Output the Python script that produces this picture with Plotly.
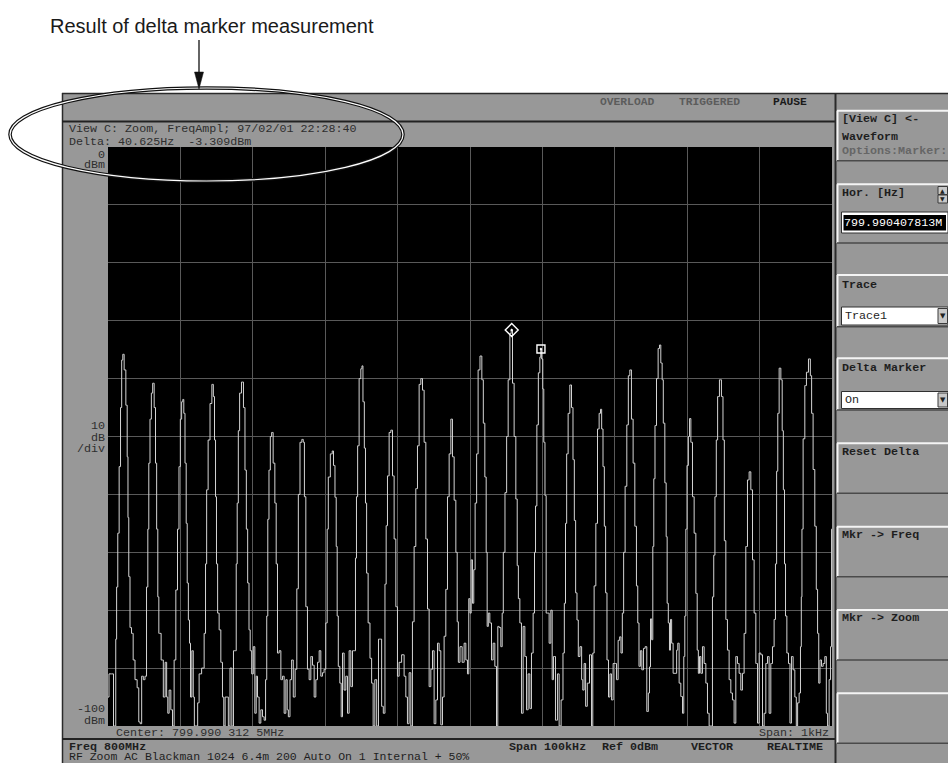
import plotly.graph_objects as go

W, H = 948, 763

# ---------------- data (Hz offset from centre, dBm) ----------------
center_label = "Center: 799.990 312 5MHz"
span_label = "Span: 1kHz"
x_range_hz = [-500, 500]
y_range_dbm = [-100, 0]
hz_per_div = 100
db_per_div = 10

trace_freq_hz = [
    -500, -497.2, -493.1, -491.7, -489.6, -489, -487.2, -485.8, -483.4, -482, -480.2, -478.9, -476.5, -474.2, -472.8, -472, -470.6, -468.6,
    -466.4, -464.1, -461.3, -458.2, -456.8, -454.4, -452.6, -449.9, -447.9,
    -445.7, -444.3, -443, -441, -439.2, -437.4, -435.1, -433.7, -431.9, -430.5, -429.1,
    -428.2, -425, -422.2, -419.9, -418.1, -416.7, -414.4, -412, -409.8, -407.5,
    -405.1, -402.9, -401, -399.2, -397.4, -396, -394.6, -392.7, -391.3, -389.9, -388.1,
    -386.7, -385.4, -383, -381.5, -379.9, -377, -375.3, -373, -368.4, -366,
    -364.6, -362.9, -360.5, -357.7, -355.4, -353.6, -352.2, -350.8, -349.5, -347.7, -345.3,
    -343, -340.8, -339.4, -337, -334.7, -332.9, -330.1, -327.8, -325.6, -323.6,
    -322.2, -320.9, -319.1, -317.3, -314, -311.8, -309.8, -308, -306.2, -304.3,
    -302.9, -300.2, -298.4, -296, -294.6, -292.4, -290.1, -287.7, -285.5, -283.2, -281.5,
    -280, -278.6, -276.7, -274.9, -273.1, -270.7, -268.4, -267, -264.8,
    -262.4, -260.1, -257.9, -255.5, -253.2, -251.8, -250, -247.3, -245.5, -242.7, -240.4,
    -238, -236.2, -233.4, -231.1, -229.5, -227.9, -225.6, -223.4,
    -221, -218.7, -216.4, -214.1, -211.8, -209.5, -207.2, -204.9, -202.7, -200.4, -198,
    -196.6, -194.8, -191, -189.6, -187.5, -185.5, -184.1, -182.8, -181,
    -178.6, -177.2, -175, -172.7, -170.3, -168.1, -165.8, -163.4, -161.2, -158.9,
    -157.5, -156.1, -154.3, -152, -149.6, -148.8, -146.9, -145, -143.7, -141.9, -139.5,
    -136.8, -135, -132.6, -130.3, -127.5, -125.3, -123, -121.1, -118.4, -116.5,
    -115.1, -112.9, -110.5, -108.1, -106, -103.6, -101.3, -99.1,
    -96.7, -92.2, -89.8, -87.5, -85.3, -82.9, -80.6, -78.4,
    -76, -73.7, -71.4, -69.1, -66.7, -64.5, -62.2, -59.8, -57.6, -55.3,
    -52.9, -50.7, -48.4, -46, -43.8, -41.5, -39.1, -36.9, -34.6, -32.2,
    -30, -27.6, -25.3, -23.1, -20.7, -18.4, -17, -15.2,
    -12.4, -9.3, -6.9, -4.6, -2.4, -1, 0.9, 2.3, 4.5, 5.9,
    8.3, 10, 12.4, 15.2, 17.5, 19.3, 21.7, 23, 24.4,
    26.2, 28.6, 30.8, 33.1, 35.5, 37.7, 39.1, 41.4, 43.8, 45.1, 46.9,
    49.7, 51.5, 53.9, 56.2, 57.6, 59.8, 62.1, 64.5, 65.9, 67.7, 70,
    72.2, 74.6, 76.9, 79.1, 81.5, 83.8, 86, 88.4,
    89.8, 91.2, 93.5, 95.3, 97.6, 98, 99.8, 101.2, 102.6, 104.5, 105.9,
    108.1, 110.5, 112.8, 114.2, 116.4, 119.7, 121.9, 124.3, 127.4, 129.4, 131.2,
    132.6, 134.4, 136.7, 139.1, 141.3, 143.2, 145, 146.8, 148.7,
    150.5, 153.3, 155.1, 156.5, 158.8, 160.6, 163.4, 166.7, 168.9, 170.3, 172.6,
    175, 177.2, 179.5, 181, 182.7, 184.7, 186.4, 188.2, 190.2,
    192.4, 194.3, 196.5, 198.9, 201.2, 203.4, 205.8, 207.6, 209.5, 211.3,
    213.1, 215.4, 217.8, 219.6, 221.9, 224.1, 226.5, 228.8, 231, 232.4,
    234.4, 236.2, 238.5, 240.7, 243, 245.4, 247.2, 248.6, 250, 251.8,
    253.2, 254.5, 256.5, 258.7, 261, 262.4, 264.7, 266.1, 267.9, 270.3, 271.6, 273,
    274.8, 276.2, 277.6, 279.4, 281.7, 284.5, 286.3, 287.7, 290, 292.4, 294.6, 296, 297.4,
    298.8, 300.7, 302.5, 303.9, 306.2, 308.4, 310.8, 313.1, 314.5,
    316.3, 317.7, 320, 322.2, 324.6, 326.9, 329.1, 331.5, 333.8, 336,
    337.3, 339.3, 341.1, 342.9, 346.2, 348.4, 350.4, 352.2, 354.5,
    356.7, 359.1, 361.4, 363.6, 366, 368.3, 370.5, 372.9, 375.2, 377.4, 379.8,
    382.1, 384.4, 386.7, 389.1, 391.3, 393.6, 396,
    398.2, 400.5, 402.9, 405.1, 407.4, 409.8, 412, 414.3, 416.7, 418.9, 421.2,
    422.6, 424.4, 425.8, 428.2, 430.5, 431.9, 433.7, 435.1, 436.5,
    438.8, 441, 442.9, 445.1, 447.5, 449.8, 451.6, 453.4, 455.8, 457.1,
    458.1, 458.9, 461.3, 463.6, 465.8, 469.2, 471, 472.7, 475.1, 477.4, 479.2, 481,
    482.4, 484.4, 486.6, 488.9, 491.3, 493, 494.8, 497.2, 498.8, 500,
]

trace_level_dbm = [
    -95, -91, -91, -100, -100, -85, -76, -66.7, -55.2, -45, -36.8, -35.8, -38.5, -44.6, -53.5, -64, -74.2, -83,
    -84, -88.6, -92, -93.4, -99.3, -99.6, -91.4, -92, -91.4,
    -76, -66, -54.6, -47, -42.5, -40.8, -45, -54.6, -66, -77.7, -84,
    -84, -88.6, -95, -89, -95, -97.8, -93.8, -97.2, -100, -88.6,
    -76.5, -66, -55.2, -47, -44, -43.6, -46, -54.6, -65, -75.3, -81.7,
    -85.7, -95, -87, -95, -100, -100, -96, -91, -90, -84,
    -72, -59.2, -50.6, -44.3, -41, -43.1, -50.6, -60.4, -72, -80.5, -83.4,
    -89, -95, -100, -95, -95, -100, -90, -100, -87, -87,
    -72, -61.5, -49, -42.5, -40.6, -45, -55.8, -66, -75.3, -83.4,
    -87, -91, -86.3, -97.8, -91.4, -95, -99.5, -97.2, -98.4, -99, -92,
    -81, -64.3, -55.8, -50, -49.3, -54.6, -61.5, -72, -87.4,
    -87, -92, -91.4, -97.8, -92, -97.2, -98.4, -92, -88.6, -95, -90.2,
    -76.3, -60, -51, -50.5, -51, -60.4, -79.4, -90.2,
    -92, -88, -89.5, -95, -92, -89, -87, -91.4, -90.8, -90.2, -82.2,
    -66, -57, -53, -52.5, -55, -60.5, -69, -81, -89.7,
    -92.6, -98.4, -87.4, -93.8, -91.4, -97.8, -87, -93.2, -87, -87,
    -71, -60.4, -51.6, -40, -38.3, -37.8, -44, -52, -61.5, -73.6, -82.2,
    -88.3, -92.6, -100, -92, -100, -85, -85, -96.6, -97.8, -75.5,
    -65.4, -56.8, -49.3, -48.9, -56.8, -67.7, -79.4, -91.4,
    -89, -87.7, -91.4, -95, -99.6, -90.8, -100, -82,
    -69, -59, -51.6, -41, -40, -42, -51, -67.7, -79.8, -93.2,
    -90.2, -87, -99.6, -95.5, -85.7, -87, -99.8, -95, -84.5, -76.4,
    -60.4, -53, -47, -53.5, -61, -70, -82, -89,
    -86.3, -89, -85.7, -88.6, -91, -78, -80.5, -71.3, -78.8, -73,
    -61.5, -53, -38.5, -36.1, -40.2, -47.7, -57, -70, -82.8,
    -80.5, -82.2, -88.6, -85.7, -89.7, -100, -82.8, -83, -86.3, -80.5, -70,
    -59.7, -50, -40.2, -32.2, -31.6, -40.8, -50, -60.8, -72.3, -78, -82.2,
    -97.8, -82.8, -88, -97.2, -91, -97, -87.4, -80.5,
    -70, -62, -48, -39, -36.3, -34.9, -36.6, -41.8, -51, -60.2, -80.5,
    -80.5, -85.7, -80, -92, -88, -99, -91, -100, -95.5, -87.4, -78.8,
    -65, -53, -46, -41.1, -45, -54, -64.5, -77, -81.7,
    -88, -86.3, -92, -93.8, -89.2, -96.6, -92.6, -87.7, -100, -87.4, -75.8,
    -65, -48.7, -46, -45.3, -48.7, -55.2, -65.5, -77, -88.6,
    -95, -91, -95.5, -89.2, -89.2, -92, -85.2, -84.6, -87.4, -80.5,
    -70, -58.6, -48, -39.5, -38.5, -47, -54.6, -65.5, -75.8, -82.2,
    -89.7, -87, -90.3, -86.6, -86.3, -97.5, -94.3, -89.8, -81.5, -85.1,
    -69, -57.3, -48.1, -40, -34.8, -34.2, -37.3, -40.2, -47.7, -58, -67.3, -78.8,
    -82.2, -86.9, -81.6, -85.7, -90.9, -90.9, -86.9, -85.7, -92.6, -94.9, -97.8, -88, -81,
    -66, -55, -50, -46.9, -51, -60.4, -66.7, -77.1, -86.9,
    -90.9, -88, -90.9, -86.3, -89.2, -92.6, -97.8, -100, -100, -77.7,
    -70.5, -60.4, -50.6, -43.1, -40.2, -43.1, -50.6, -68, -81.6,
    -86.9, -92, -94.3, -95.5, -99.5, -88, -89.2, -90.9, -93.8, -90.9, -84,
    -69, -57.5, -56.1, -59.2, -71.3, -80.5, -89.2,
    -99.5, -87.4, -87.7, -100, -97.8, -89.2, -88, -97.8, -89.2, -86.3, -81.6,
    -72, -56, -46, -38.2, -40.2, -49, -59.2, -72, -81,
    -87.4, -89.2, -99.5, -88, -90.3, -95, -100, -96, -94.3, -86.3,
    -77.7, -66, -50.4, -41.2, -38.9, -36.6, -39.5, -46, -55.7, -65.5, -76.4, -84,
    -92.6, -88.6, -89.7, -89.2, -88, -97.8, -100, -92, -86.3, -66,
]

marker_ref_hz = [57.6]      # diamond (reference marker)
marker_ref_dbm = [-31.6]
marker_act_hz = [98.0]      # square (active marker)
marker_act_dbm = [-34.9]

status_items = ["OVERLOAD", "TRIGGERED", "PAUSE"]
header_lines = ["View C: Zoom, FreqAmpl; 97/02/01 22:28:40", "Delta: 40.625Hz  -3.309dBm"]
footer_items = ["Span 100kHz", "Ref 0dBm", "VECTOR", "REALTIME"]
footer_line2 = "RF Zoom AC Blackman 1024 6.4m 200 Auto On 1 Internal + 50%"
panel_labels = ["[View C] <-", "Waveform", "Options:Marker:", "Hor. [Hz]", "Trace",
                "Delta Marker", "Reset Delta", "Mkr -> Freq", "Mkr -> Zoom"]
hor_value = "799.990407813M"
trace_value = "Trace1"
delta_value = "On"
caption = "Result of delta marker measurement"


# ---------------- helpers (pixel -> paper) ----------------
def X(px):
    return px / W


def Y(py):
    return 1 - py / H


MONO = "Liberation Mono, DejaVu Sans Mono, monospace"
GREY = "#989898"
DARK = "#1e1e1e"

fig = go.Figure()
fig.add_trace(go.Scatter(x=trace_freq_hz, y=trace_level_dbm, mode="lines",
                         line=dict(color="#d4d4d4", width=1, shape="hvh"), hoverinfo="skip"))
fig.add_trace(go.Scatter(x=marker_ref_hz, y=marker_ref_dbm, mode="markers",
                         marker=dict(symbol="diamond-open-dot", size=10, color="white",
                                     line=dict(width=1.4, color="white")), hoverinfo="skip"))
fig.add_trace(go.Scatter(x=marker_act_hz, y=marker_act_dbm, mode="markers",
                         marker=dict(symbol="square-open-dot", size=8, color="white",
                                     line=dict(width=1.4, color="white")), hoverinfo="skip"))

shapes = []


def rect(x0, y0, x1, y1, fill, line_color=None, lw=0, layer="above"):
    shapes.append(dict(type="rect", xref="paper", yref="paper", x0=X(x0), x1=X(x1), y0=Y(y1), y1=Y(y0),
                       fillcolor=fill, line=dict(color=line_color or fill, width=lw), layer=layer))


def line(x0, y0, x1, y1, color, w, layer="above"):
    shapes.append(dict(type="line", xref="paper", yref="paper", x0=X(x0), x1=X(x1), y0=Y(y0), y1=Y(y1),
                       line=dict(color=color, width=w), layer=layer))


# screen frame
rect(62, 93, 948, 763, GREY, layer="below")
rect(108, 147, 832, 726, "black", layer="below")
line(62, 93.5, 948, 93.5, "#2a2a2a", 1.5)
line(62.5, 93, 62.5, 763, "#2a2a2a", 1.5)
line(62, 121.5, 835, 121.5, "#222222", 2)
line(62, 739, 835, 739, "#222222", 2)
line(835.5, 93, 835.5, 763, "#2a2a2a", 2)

# right panel boxes
boxes = [(110.7, 160.7), (184.3, 243), (275, 326.7), (358.3, 410),
         (443.3, 493.3), (526.7, 576.7), (610, 660), (693.3, 743.3)]
for t, b in boxes:
    line(837, t, 948, t, "#f4f4f4", 2)
    line(837.5, t, 837.5, b, "#f4f4f4", 2)
    line(837, b, 948, b, "#4a4a4a", 1.5)

# Hor. spinner + field
rect(938, 186.5, 947.5, 194.5, "#c8c8c8", "#3a3a3a", 1)
rect(938, 195, 947.5, 203, "#c8c8c8", "#3a3a3a", 1)
rect(841.5, 212, 948, 233, "white", "#303030", 1)
rect(843.5, 215, 946, 230.5, "black")
# dropdowns
for t, b in [(307, 325), (391.5, 408.5)]:
    rect(841.5, t, 948, b, "white", "#303030", 1)
    rect(938, t + 1.5, 947.5, b - 1.5, "#c8c8c8", "#3a3a3a", 1)

# annotation ellipse (double line) and arrow
for col, w in [("#111111", 3.6), ("white", 1.2)]:
    shapes.append(dict(type="circle", xref="paper", yref="paper", x0=X(10), x1=X(403), y0=Y(181), y1=Y(88),
                       line=dict(color=col, width=w), layer="above"))
line(199, 40, 199, 74, "#111111", 1.3)
shapes.append(dict(type="path", xref="paper", yref="paper",
                   path=f"M {X(194.5)},{Y(72)} L {X(203.5)},{Y(72)} L {X(199)},{Y(89)} Z",
                   fillcolor="#111111", line=dict(color="#111111", width=0.5), layer="above"))

ann = []


def txt(x, y, s, size=11.7, color=DARK, bold=False, anchor="left", family=MONO):
    ann.append(dict(x=X(x), y=Y(y), xref="paper", yref="paper", text=(f"<b>{s}</b>" if bold else s),
                    showarrow=False, xanchor=anchor, yanchor="middle", borderpad=0, borderwidth=0,
                    font=dict(family=family, size=size, color=color)))


# caption
txt(212, 26, caption, size=20, color="#1a1a1a", anchor="center",
    family="Liberation Sans Narrow, Liberation Sans, Arial, sans-serif")

# status bar
txt(627, 102, status_items[0], size=11.3, color="#5c5c5c", bold=True, anchor="center")
txt(709, 102, status_items[1], size=11.3, color="#5c5c5c", bold=True, anchor="center")
txt(790, 102, status_items[2], size=11.3, color="#1a1a1a", bold=True, anchor="center")

# header
txt(69, 129, header_lines[0], color="#2e2e2e")
txt(69, 141.5, header_lines[1], color="#2e2e2e")

# y labels
txt(105, 155, "0", color="#2e2e2e", anchor="right")
txt(105, 165, "dBm", color="#2e2e2e", anchor="right")
txt(105, 426, f"{db_per_div}", color="#2e2e2e", anchor="right")
txt(105, 437.5, "dB", color="#2e2e2e", anchor="right")
txt(105, 449, "/div", color="#2e2e2e", anchor="right")
txt(105, 708.5, f"{y_range_dbm[0]}", color="#2e2e2e", anchor="right")
txt(105, 721, "dBm", color="#2e2e2e", anchor="right")

# under plot
txt(115.5, 733, center_label, color="#2e2e2e")
txt(829, 733, span_label, color="#2e2e2e", anchor="right")

# footer
txt(69, 746.5, "Freq 800MHz", bold=True)
for xs, s in zip([509, 602, 691, 767], footer_items):
    txt(xs, 746.5, s, bold=True)
txt(69, 756.5, footer_line2, size=11.5)

# right panel texts
panel_y = [119.3, 136.7, 150.7, 192.7, 285, 368.3, 451.7, 535, 618.3]
for s, yy in zip(panel_labels, panel_y):
    txt(841.5, yy, s, bold=True, color=("#666666" if s.startswith("Options") else DARK))
txt(843.5, 223, hor_value, color="white")
txt(845, 316, trace_value)
txt(845, 400, delta_value)
txt(942.8, 190.5, "▲", size=6, color="#222222", anchor="center", family="DejaVu Sans")
txt(942.8, 199, "▼", size=6, color="#222222", anchor="center", family="DejaVu Sans")
txt(942.8, 316, "▼", size=7, color="#222222", anchor="center", family="DejaVu Sans")
txt(942.8, 400, "▼", size=7, color="#222222", anchor="center", family="DejaVu Sans")

fig.update_layout(
    width=W, height=H, margin=dict(l=0, r=0, t=0, b=0),
    paper_bgcolor="white", plot_bgcolor="rgba(0,0,0,0)", showlegend=False,
    xaxis=dict(domain=[X(108), X(832)], range=x_range_hz, tick0=x_range_hz[0], dtick=hz_per_div,
               showgrid=True, gridcolor="#595959", gridwidth=1, zeroline=False, showticklabels=False,
               ticks="", showline=False, fixedrange=True),
    yaxis=dict(domain=[Y(726), Y(147)], range=y_range_dbm, tick0=y_range_dbm[0], dtick=db_per_div,
               showgrid=True, gridcolor="#595959", gridwidth=1, zeroline=False, showticklabels=False,
               ticks="", showline=False, fixedrange=True),
    shapes=shapes, annotations=ann,
)

fig.write_html("out.html", config={"displayModeBar": False},
               post_script="document.body.style.margin='0';document.body.style.overflow='hidden';")
